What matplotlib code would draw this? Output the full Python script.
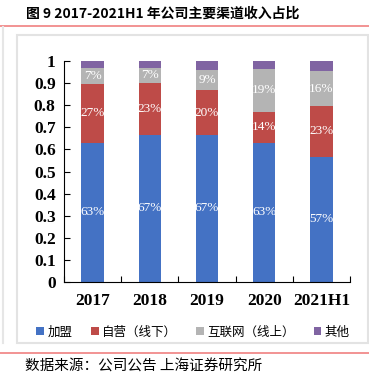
import matplotlib.pyplot as plt
import numpy as np
from matplotlib.patches import Rectangle
from matplotlib.lines import Line2D

plt.rcParams['font.family'] = ['Liberation Serif', 'Noto Sans CJK SC']

years = ['2017', '2018', '2019', '2020', '2021H1']
series_names = ['加盟', '自营（线下）', '互联网（线上）', '其他']
franchise = [0.630, 0.667, 0.666, 0.630, 0.566]
offline = [0.266, 0.232, 0.201, 0.140, 0.230]
online = [0.072, 0.071, 0.092, 0.194, 0.159]
others = [0.032, 0.030, 0.041, 0.036, 0.045]
colors = ['#4472C4', '#BE4B48', '#B4B4B4', '#8064A2']

fig = plt.figure(figsize=(3.69, 3.81), dpi=100)
W, H = 369, 381

def fx(px):
    return px / W

def fy(py):
    return 1 - py / H

# frame decorations
fig.add_artist(Line2D([0, 1], [fy(25.5), fy(25.5)], color='#F08080', lw=1.2))
fig.add_artist(Line2D([0, 1], [fy(353), fy(353)], color='#F08080', lw=1.2))
fig.add_artist(Line2D([fx(3), fx(3)], [fy(27), fy(343)], color='#E6E6E6', lw=1.5))
fig.add_artist(Rectangle((fx(17), fy(343)), fx(368) - fx(17), fy(35) - fy(343),
                         fill=False, edgecolor='#E3E3E3', lw=1.5))

fig.text(fx(26), fy(14), '图 9 2017-2021H1 年公司主要渠道收入占比', fontsize=10,
         fontweight='bold', va='center', ha='left',
         family=['Noto Sans CJK SC', 'DejaVu Sans'])
fig.text(fx(25), fy(367), '数据来源：公司公告 上海证券研究所', fontsize=10.5,
         va='center', ha='left', family=['Noto Sans CJK SC', 'DejaVu Sans'])

ax = fig.add_axes([fx(64), fy(282), fx(350) - fx(64), fy(61) - fy(282)])
x = np.arange(len(years))
bottom = np.zeros(len(years))
for vals, col, name in zip([franchise, offline, online, others], colors, series_names):
    vals = np.array(vals)
    ax.bar(x, vals, 0.39, bottom=bottom, color=col, label=name, zorder=2)
    if name != '其他':
        for xi, b, v in zip(x, bottom, vals):
            ax.text(xi, b + v / 2, f'{round(v * 100)}%', ha='center', va='center',
                    color='white', fontsize=9.5)
    bottom += vals

ax.set_xlim(-0.5, len(years) - 0.5)
ax.set_ylim(0, 1)
ax.set_yticks(np.arange(0, 1.01, 0.1))
ax.set_yticklabels(['0', '0.1', '0.2', '0.3', '0.4', '0.5', '0.6', '0.7', '0.8', '0.9', '1'])
ax.set_xticks(np.arange(len(years) + 1) - 0.5, minor=False)
ax.set_xticklabels([])
ax.set_xticks(x, minor=True)
ax.set_xticklabels(years, minor=True)
ax.tick_params(axis='x', which='minor', length=0, pad=8, labelsize=12.5)
ax.tick_params(axis='x', which='major', length=4, direction='in', width=0.8)
ax.tick_params(axis='y', length=4, direction='in', width=0.8, labelsize=12.5, pad=6)
for lab in ax.get_yticklabels() + ax.get_xticklabels(minor=True):
    lab.set_fontweight('bold')
ax.spines['top'].set_visible(False)
ax.spines['right'].set_visible(False)

handles, labels = ax.get_legend_handles_labels()
fig.legend(handles, labels, loc='center', bbox_to_anchor=(fx(193), fy(332)), ncol=4,
           frameon=False, handlelength=0.6, handleheight=0.6,
           handletextpad=0.3, columnspacing=1.5,
           prop={'family': ['Noto Sans CJK SC'], 'size': 9})

fig.savefig('out.png', dpi=100)
